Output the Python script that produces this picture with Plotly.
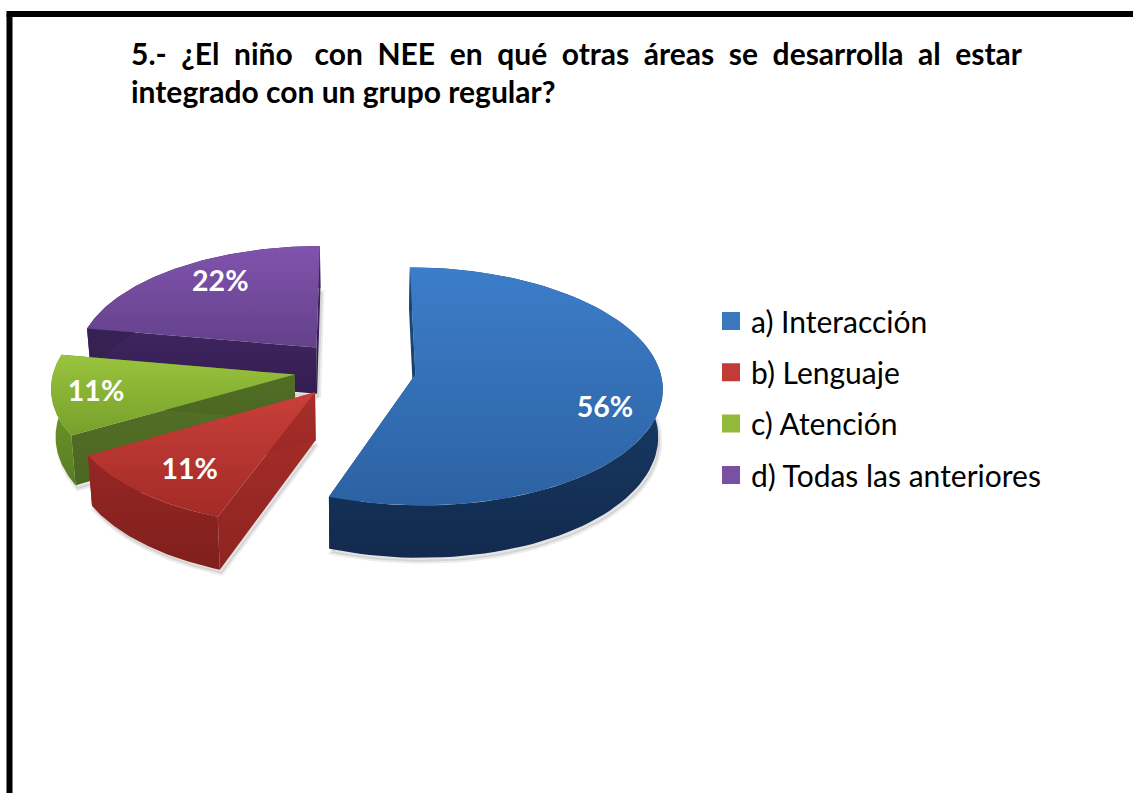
import numpy as np
import plotly.graph_objects as go

# ---------- data ----------
title_line1 = "5.-\u00a0\u00a0¿El\u00a0\u00a0niño\u00a0\u00a0\u00a0con\u00a0\u00a0NEE\u00a0\u00a0en\u00a0\u00a0qué\u00a0\u00a0otras\u00a0\u00a0áreas\u00a0\u00a0se\u00a0\u00a0desarrolla\u00a0\u00a0al\u00a0\u00a0estar"
title_line2 = "integrado con un grupo regular?"
categories = ["a) Interacción", "b) Lenguaje", "c) Atención", "d) Todas las anteriores"]
counts = [5, 1, 1, 2]

# ---------- style / layout ----------
FONT = "Lato"
top_cols = [("#3c7dc9", "#2c62a3"), ("#c9403a", "#a32a26"), ("#9ac33e", "#76a02a"), ("#8053ad", "#64418a")]
outer_cols = [("#1b4676", "#122a4e"), ("#962724", "#7f1f1c"), ("#7ba22e", "#587d22"), ("#3d2560", "#33204f")]
wall_cols = [("#1c4f86", "#163a66"), ("#a92e2a", "#8e2420"), ("#55722a", "#4a6620"), ("#3f2560", "#341d50")]
legend_cols = ["#3a78bf", "#c23b37", "#93b93a", "#7a50a5"]
label_frac = [0.79, 0.76, 0.80, 0.73]
label_turn = [11.5, -3.0, -1.5, 4.0]
radius_scale = [0.99, 0.98, 0.975, 0.98]

OX, OY = 355.0, 369.5
RX, RY = 247.0, 118.0
PULL, PERSP, DEPTH, BOTTOM_X = 0.247, 0.10, 47.0, 0.985

total = sum(counts)
edges = np.concatenate([[0.0], np.cumsum(counts)]) / total * 2 * np.pi


def project(px, py, down=0.0):
    """Plane of the pie -> drawing axes, with perspective and extrusion."""
    px, py = np.asarray(px, float), np.asarray(py, float)
    s = 1.0 / (1.0 - PERSP * py)
    k = BOTTOM_X if down else 1.0
    return OX + RX * px * s * k, OY + RY * py * s + down * s


def poly(x, y, cols, name=""):
    # y axis runs downwards, so the gradient stops are given bottom colour first
    return go.Scatter(
        x=np.append(x, x[0]), y=np.append(y, y[0]), mode="lines", fill="toself",
        line=dict(width=0),
        fillgradient=dict(type="vertical", colorscale=[[0, cols[1]], [1, cols[0]]]),
        hoverinfo="skip", showlegend=False, name=name)


fig = go.Figure()

draw_order = [3, 2, 1, 0]
geo = {}
for i in range(len(counts)):
    a0, a1 = edges[i], edges[i + 1]
    mid = (a0 + a1) / 2
    ax, ay = PULL * np.sin(mid), -PULL * np.cos(mid)
    t = np.linspace(a0, a1, 90)
    r = radius_scale[i]
    geo[i] = (ax, ay, ax + r * np.sin(t), ay - r * np.cos(t), mid)

# soft shadow
for i in draw_order:
    ax, ay, ox, oy, mid = geo[i]
    bx, by = project(np.r_[ax, ox], np.r_[ay, oy], DEPTH)
    fig.add_trace(go.Scatter(x=np.append(bx, bx[0]) + 2, y=np.append(by, by[0]) + 4, mode="lines", fill="toself",
                             fillcolor="rgba(0,0,0,0.10)", line=dict(width=4, color="rgba(0,0,0,0.07)"),
                             hoverinfo="skip", showlegend=False))

for i in draw_order:
    ax, ay, ox, oy, mid = geo[i]
    # radial walls
    for j in (0, -1):
        tx, ty = project([ax, ox[j]], [ay, oy[j]])
        bx, by = project([ax, ox[j]], [ay, oy[j]], DEPTH)
        fig.add_trace(poly(np.r_[tx, bx[::-1]], np.r_[ty, by[::-1]], wall_cols[i]))
    # outer rim
    tx, ty = project(ox, oy)
    bx, by = project(ox, oy, DEPTH)
    fig.add_trace(poly(np.r_[tx, bx[::-1]], np.r_[ty, by[::-1]], outer_cols[i]))
    # top face
    fx, fy = project(np.r_[ax, ox], np.r_[ay, oy])
    fig.add_trace(poly(fx, fy, top_cols[i], categories[i]))

# percentage labels
lx, ly, ltext = [], [], []
for i in range(len(counts)):
    ax, ay, _, _, mid = geo[i]
    ang = mid + np.radians(label_turn[i])
    x, y = project(ax + label_frac[i] * np.sin(ang), ay - label_frac[i] * np.cos(ang))
    lx.append(float(x)); ly.append(float(y))
    ltext.append(f"{round(counts[i] / total * 100)}%")
fig.add_trace(go.Scatter(x=lx, y=ly, text=ltext, mode="text", textposition="middle center",
                         textfont=dict(family=FONT, size=28.5, color="white", weight="bold"),
                         hoverinfo="skip", showlegend=False))

# legend entries
for i, c in enumerate(categories):
    fig.add_trace(go.Scatter(x=[None], y=[None], mode="markers", name=c, legendgroup=c,
                             marker=dict(symbol="square", size=20, color=legend_cols[i],
                                         line=dict(width=2, color=legend_cols[i]))))

frame = dict(color="black", width=6)
title_font = dict(family=FONT, size=30, color="black", weight="bold")
fig.update_layout(
    width=1133, height=793, margin=dict(l=0, r=0, t=0, b=0),
    paper_bgcolor="white", plot_bgcolor="white", showlegend=True,
    xaxis=dict(range=[0, 1133], visible=False, fixedrange=True),
    yaxis=dict(range=[793, 0], visible=False, fixedrange=True),
    legend=dict(x=711 / 1133, y=1 - 295 / 793, xanchor="left", yanchor="top", borderwidth=0,
                bgcolor="rgba(0,0,0,0)", traceorder="grouped", tracegroupgap=9.3, itemwidth=30,
                font=dict(family=FONT, size=30, color="black")),
    shapes=[
        dict(type="line", xref="x", yref="y", x0=9.5, x1=9.5, y0=14, y1=800, line=frame),
        dict(type="line", xref="x", yref="y", x0=6.5, x1=1140, y0=14, y1=14, line=frame),
    ],
    annotations=[
        dict(text=title_line1, x=129, y=53, xref="x", yref="y", xanchor="left", yanchor="middle", showarrow=False,
             font=title_font),
        dict(text=title_line2, x=129, y=91, xref="x", yref="y", xanchor="left", yanchor="middle", showarrow=False,
             font=title_font),
    ],
)

fig.write_html("out.html", config=dict(displayModeBar=False),
               post_script="document.body.style.margin='0';document.body.style.overflow='hidden';")
